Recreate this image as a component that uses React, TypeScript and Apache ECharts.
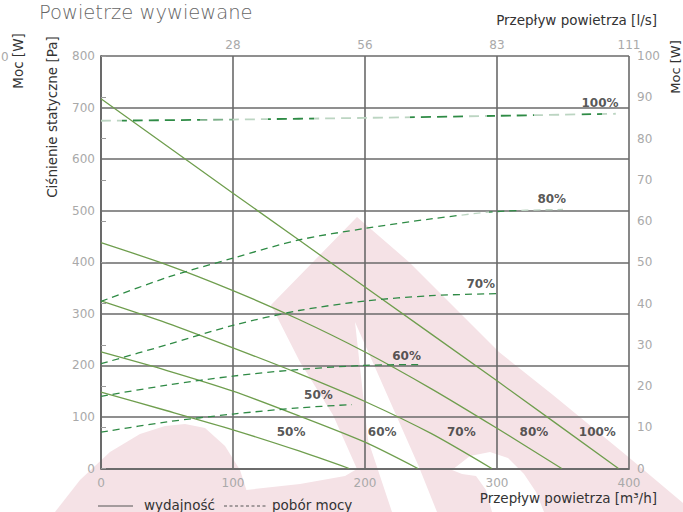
import React, { useEffect, useRef } from "react";
import * as echarts from "echarts";

// Flow axis (m³/h) and top axis (l/s)
const flowTicksTop = ["", "28", "56", "83", "111"];

// Fan curves: static pressure [Pa] vs flow [m³/h]
const fan50 = [[0, 148], [50, 112], [100, 75], [150, 34], [188, 0]];
const fan60 = [[0, 226], [50, 190], [100, 150], [150, 102], [200, 51], [240, 0]];
const fan70 = [[0, 325], [50, 282], [100, 234], [150, 184], [200, 130], [250, 68], [296, 0]];
const fan80 = [[0, 438], [50, 395], [100, 345], [150, 289], [200, 226], [250, 155], [300, 78], [349, 0]];
const fan100 = [[0, 717], [100, 534], [200, 352], [300, 170], [392, 0]];

// Power curves: power [W] vs flow [m³/h]
const pow50 = [[0, 8.8], [50, 11.3], [100, 13.2], [150, 14.7], [190, 15.5]];
const pow60 = [[0, 17.5], [50, 20.2], [100, 22.4], [150, 24], [200, 25], [242, 25.2]];
const pow70 = [[0, 25.4], [50, 30], [100, 34.7], [150, 38.3], [200, 40.6], [250, 41.9], [300, 42.4]];
const pow80 = [[0, 40.5], [50, 46.3], [100, 51], [150, 55.4], [200, 58.2], [250, 60.5], [300, 62.3], [350, 62.8]];
const pow100 = [[0, 84.3], [100, 84.6], [200, 85], [300, 85.5], [390, 86]];

// Curve labels: [text, flow, pressure]
const powerLabels: [string, number, number][] = [
  ["100%", 378, 708],
  ["80%", 341.5, 522],
  ["70%", 287.7, 357],
  ["60%", 231.5, 218],
  ["50%", 164.7, 142.7],
];
const fanLabels: [string, number, number][] = [
  ["50%", 144, 70],
  ["60%", 213, 70],
  ["70%", 273, 70],
  ["80%", 328, 70],
  ["100%", 376, 70],
];

const FONT = "DejaVu Sans";
const GRID = "#6a6a6a";
const TICKTXT = "#a9a9a9";
const FAN = "#6f9e4e";
const POW = "#2f8a45";
const PINK = "#f5e2e6";
const LIGHT = "#bcd5c2";
const DARK = "#2e8b45";
const MID = "#7db08a";

function bands(stops: [number, string][]) {
  // hard colour stops: each entry [endOffset, colour]
  const out: { offset: number; color: string }[] = [];
  let start = 0;
  for (const [end, c] of stops) {
    out.push({ offset: start, color: c });
    out.push({ offset: end, color: c });
    start = end;
  }
  return out;
}

export default function App() {
  const ref = useRef<HTMLDivElement>(null);
  useEffect(() => {
    if (!ref.current) return;
    const chart = echarts.init(ref.current, undefined, { renderer: "svg" });

    const grad100 = new echarts.graphic.LinearGradient(
      0, 0, 1, 0,
      bands([
        [0.04, LIGHT], [0.193, DARK], [0.257, MID], [0.324, LIGHT], [0.413, DARK],
        [0.6, LIGHT], [0.711, DARK], [0.75, LIGHT], [0.842, DARK], [0.934, LIGHT],
        [0.973, DARK], [1, LIGHT],
      ])
    );
    const grad80 = new echarts.graphic.LinearGradient(
      0, 0, 1, 0,
      bands([[0.78, DARK], [0.84, LIGHT], [0.9, DARK], [1, LIGHT]])
    );

    const fanSeries = [fan50, fan60, fan70, fan80, fan100].map((d) => ({
      type: "line",
      data: d,
      xAxisIndex: 0,
      yAxisIndex: 0,
      showSymbol: false,
      smooth: 0.25,
      lineStyle: { color: FAN, width: 1.3 },
      z: 3,
    }));
    const powSeries = [pow50, pow60, pow70, pow80, pow100].map((d, i) => ({
      type: "line",
      data: d,
      xAxisIndex: 0,
      yAxisIndex: 1,
      showSymbol: false,
      smooth: 0.3,
      lineStyle: {
        color: i === 4 ? grad100 : i === 3 ? grad80 : POW,
        width: i === 4 ? 1.8 : 1.3,
        type: i === 4 ? [10, 6] : [7, 5],
      },
      z: 3,
    }));
    const labelSeries = (arr: [string, number, number][]) => ({
      type: "scatter",
      xAxisIndex: 0,
      yAxisIndex: 0,
      symbolSize: 1,
      itemStyle: { color: "rgba(0,0,0,0)" },
      data: arr.map(([t, x, y]) => ({ name: t, value: [x, y] })),
      label: {
        show: true,
        position: "inside",
        formatter: "{b}",
        color: "#2b2b2b",
        fontSize: 12,
        fontWeight: "bold",
        fontFamily: FONT,
      },
      z: 5,
    });

    const axisLine = { show: true, lineStyle: { color: GRID, width: 1.6 } };
    const labelBase = { color: TICKTXT, fontSize: 12, fontFamily: FONT };
    const nameStyle = { fill: "#333", fontSize: 13.5, fontFamily: FONT };

    chart.setOption({
      animation: false,
      backgroundColor: "#ffffff",
      grid: { left: 101, right: 54, top: 56, bottom: 43.5 },
      xAxis: [
        {
          type: "value",
          position: "bottom",
          min: 0,
          max: 400,
          interval: 100,
          axisLine,
          axisTick: { show: false },
          splitLine: { show: true, lineStyle: { color: GRID, width: 1.6 } },
          axisLabel: { ...labelBase, margin: 8 },
        },
        {
          type: "value",
          position: "top",
          min: 0,
          max: 400,
          interval: 100,
          axisLine,
          axisTick: { show: false },
          splitLine: { show: false },
          axisLabel: {
            ...labelBase,
            margin: 5,
            formatter: (v: number) => flowTicksTop[Math.round(v / 100)] ?? "",
          },
        },
      ],
      yAxis: [
        {
          type: "value",
          position: "left",
          min: 0,
          max: 800,
          interval: 100,
          axisLine,
          axisTick: { show: false },
          splitLine: { show: true, lineStyle: { color: GRID, width: 1.6 } },
          axisLabel: { ...labelBase, margin: 6 },
        },
        {
          type: "value",
          position: "right",
          min: 0,
          max: 100,
          interval: 10,
          axisLine,
          axisTick: { show: true, length: 5, lineStyle: { color: "#9a9a9a", width: 1 } },
          splitLine: { show: false },
          axisLabel: { ...labelBase, margin: 8 },
        },
      ],
      graphic: [
        // watermark (background logo)
        {
          type: "polygon",
          z: -10,
          silent: true,
          shape: {
            points: [
              [357, 217], [409, 262], [499, 352], [553, 395], [626, 455], [683, 503],
              [683, 512], [437, 512], [419, 467], [355, 322], [368, 440], [392, 512],
              [245, 512], [246, 490], [300, 484], [345, 476], [357, 469], [333, 415],
              [300, 362], [271, 305],
            ],
          },
          style: { fill: PINK },
        },
        {
          type: "polygon",
          z: -10,
          silent: true,
          shape: {
            points: [
              [55, 512], [80, 480], [110, 452], [140, 434], [165, 426], [185, 424],
              [205, 428], [225, 446], [240, 470], [248, 495], [250, 512],
            ],
          },
          style: { fill: PINK },
        },
        {
          type: "polygon",
          z: -9,
          silent: true,
          shape: {
            points: [
              [452, 470], [470, 456], [490, 452], [508, 458], [524, 474], [536, 492], [544, 512],
              [492, 512], [486, 490], [476, 476], [462, 474],
            ],
          },
          style: { fill: "#ffffff" },
        },
        // title
        {
          type: "text",
          x: 39,
          y: 12,
          style: {
            text: "Powietrze wywiewane",
            fill: "#666",
            fontSize: 19.5,
            fontWeight: 300,
            fontFamily: FONT,
            verticalAlign: "middle",
          },
        },
        {
          type: "text",
          x: 657,
          y: 20,
          style: { ...nameStyle, text: "Przepływ powietrza [l/s]", align: "right", verticalAlign: "middle" },
        },
        {
          type: "text",
          x: 657,
          y: 498,
          style: { ...nameStyle, text: "Przepływ powietrza [m³/h]", align: "right", verticalAlign: "middle" },
        },
        {
          type: "text",
          x: 52,
          y: 117,
          rotation: Math.PI / 2,
          style: { ...nameStyle, text: "Ciśnienie statyczne [Pa]", align: "center", verticalAlign: "middle" },
        },
        {
          type: "text",
          x: 18,
          y: 61,
          rotation: Math.PI / 2,
          style: { ...nameStyle, text: "Moc [W]", align: "center", verticalAlign: "middle" },
        },
        {
          type: "text",
          x: 1,
          y: 57,
          style: {
            text: "0",
            fill: TICKTXT,
            fontSize: 12,
            fontFamily: FONT,
            align: "left",
            verticalAlign: "middle",
          },
        },
        {
          type: "text",
          x: 675,
          y: 67,
          rotation: Math.PI / 2,
          style: { ...nameStyle, fontSize: 13, text: "Moc [W]", align: "center", verticalAlign: "middle" },
        },
        // legend
        {
          type: "line",
          shape: { x1: 98, y1: 506, x2: 133, y2: 506 },
          style: { stroke: "#555", lineWidth: 1 },
        },
        {
          type: "text",
          x: 144,
          y: 505,
          style: { ...nameStyle, text: "wydajność", verticalAlign: "middle" },
        },
        {
          type: "line",
          shape: { x1: 224, y1: 506, x2: 266, y2: 506 },
          style: { stroke: "#555", lineWidth: 1, lineDash: [3, 2.5] },
        },
        {
          type: "text",
          x: 272,
          y: 505,
          style: { ...nameStyle, text: "pobór mocy", verticalAlign: "middle" },
        },
      ],
      series: [...fanSeries, ...powSeries, labelSeries(powerLabels), labelSeries(fanLabels)],
    });
    return () => chart.dispose();
  }, []);
  return <div ref={ref} style={{ width: 683, height: 512, position: "absolute", left: 0, top: 0 }} />;
}
